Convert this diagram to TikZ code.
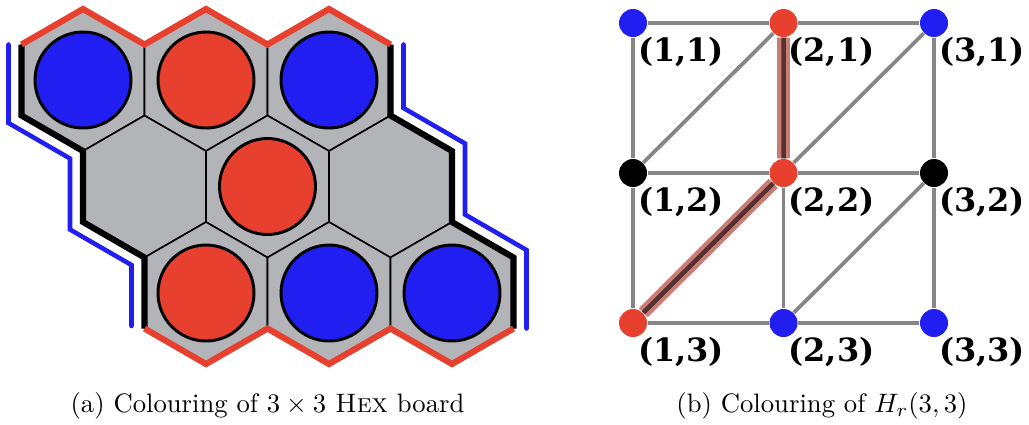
\documentclass[tikz,border=0pt]{standalone}
\usepackage{fontspec}
\newfontfamily\gridfont{DejaVu Serif}
\definecolor{HXred}{HTML}{E8402E}
\definecolor{HXblue}{HTML}{201EF0}
\definecolor{HXgray}{HTML}{B3B4B8}
\definecolor{HXedge}{HTML}{868686}
\definecolor{HXhalo}{HTML}{CC7C76}
\definecolor{HXpath}{HTML}{553130}
\usetikzlibrary{calc, positioning}

\begin{document}
\begin{tikzpicture}[x=0.375pt, y=-0.375pt,
    cell/.style={fill=HXgray, draw=black, line width=0.6pt, line join=round},
    stone/.style={draw=black, line width=1.1pt},
    vert/.style={circle, inner sep=0pt, minimum size=10.5pt},
    coordlabel/.style={font=\gridfont\bfseries\fontsize{12}{14}\selectfont, inner sep=0pt},
    gedge/.style={HXedge, line width=1.4pt}]
  \useasboundingbox (0,0) rectangle (1029,424);

  % (a) the board
  \foreach \r/\c in {0/0,0/1,0/2,1/0,1/1,1/2,2/0,2/1,2/2}
    \draw[cell, shift={(83+123*\c+61.5*\r, 80+106.5*\r)}]
      (0,-71) -- (61.5,-35.5) -- (61.5,35.5) -- (0,71) -- (-61.5,35.5) -- (-61.5,-35.5) -- cycle;
  \foreach \r/\c/\col in {0/0/HXblue,0/1/HXred,0/2/HXblue,1/1/HXred,2/0/HXred,2/1/HXblue,2/2/HXblue}
    \filldraw[stone, fill=\col] (83+123*\c+61.5*\r, 80+106.5*\r) circle (48);
  % borders
  \draw[line width=2.3pt] (21.5,44.5) -- (21.5,115.5) -- (83,151) -- (83,222) -- (144.5,257.5) -- (144.5,328.5);
  \draw[line width=2.3pt] (390.5,44.5) -- (390.5,115.5) -- (452,151) -- (452,222) -- (513.5,257.5) -- (513.5,328.5);
  \draw[HXred, line width=2.3pt] (21.5,44.5) -- (83,9) -- (144.5,44.5) -- (206,9) -- (267.5,44.5) -- (329,9) -- (390.5,44.5);
  \draw[HXred, line width=2.3pt] (144.5,328.5) -- (206,364) -- (267.5,328.5) -- (329,364) -- (390.5,328.5) -- (452,364) -- (513.5,328.5);
  \draw[HXblue, line width=1.7pt, line cap=round] (8.5,44.5) -- (8.5,123) -- (70,158.5) -- (70,229.5) -- (131.5,265) -- (131.5,326);
  \draw[HXblue, line width=1.7pt, line cap=round] (403.5,44.5) -- (403.5,108) -- (465,143.5) -- (465,214.5) -- (526.5,250) -- (526.5,328.5);

  % (b) the graph
  \foreach \i/\j/\col in {1/1/HXblue,2/1/HXred,3/1/HXblue,1/2/black,2/2/HXred,3/2/black,1/3/HXred,2/3/HXblue,3/3/HXblue}{
    \node[vert, fill=\col] (v\i\j) at (633+150.5*\i-150.5, 23+150*\j-150) {};
    \node[coordlabel] (l\i\j) at ([shift={(48,29)}]v\i\j) {(\i,\j)};
  }
  \foreach \a/\b in {v11/v21,v21/v31,v12/v22,v22/v32,v13/v23,v23/v33,v11/v12,v12/v13,v21/v22,v22/v23,v31/v32,v32/v33,v12/v21,v22/v31,v13/v22,v23/v32}
    \draw[gedge] (\a) -- (\b);
  \draw[HXhalo, line width=4.8pt] (v21) -- (v22) -- (v13);
  \draw[HXpath, line width=1.7pt] (v21) -- (v22) -- (v13);

  \node (capa) at (267.5,406) {(a) Colouring of $3\times 3$ \textsc{Hex} board};
  \node (capb) at (822,406) {(b) Colouring of $H_r(3,3)$};
\end{tikzpicture}
\end{document}
